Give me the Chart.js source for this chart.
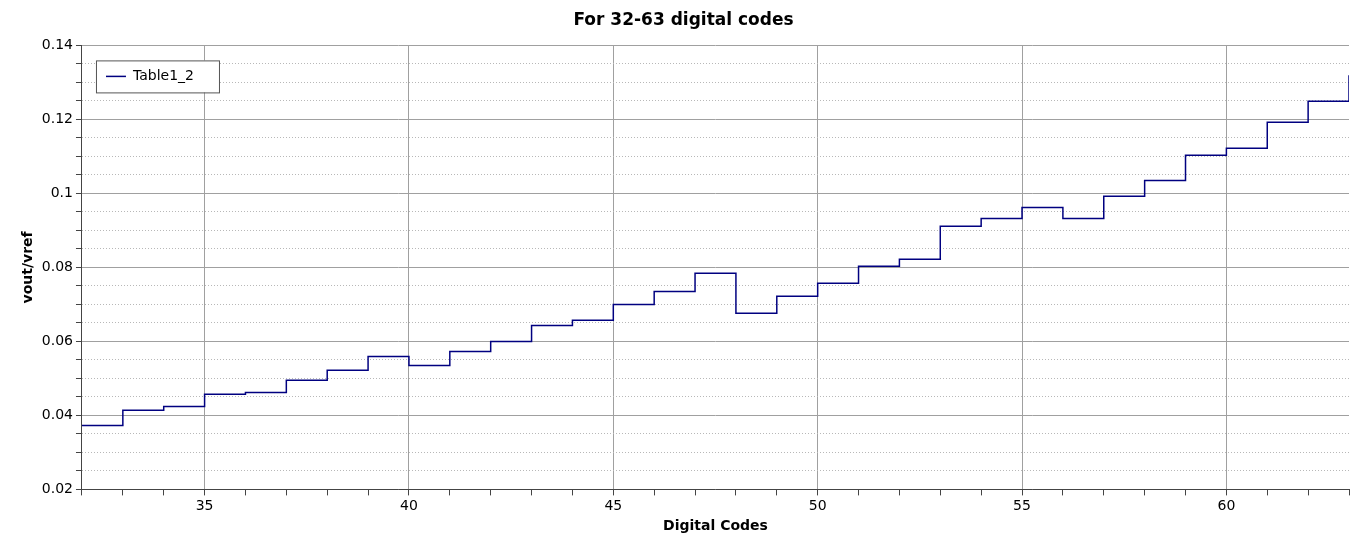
<!DOCTYPE html>
<html><head><meta charset="utf-8">
<script src="https://cdn.jsdelivr.net/npm/chart.js@4"></script>
<style>body{margin:0;background:#fff}#wrap{width:1366px;height:549px}</style>
</head><body><div id="wrap"><canvas id="c"></canvas></div>
<script>
const codes = [32,33,34,35,36,37,38,39,40,41,42,43,44,45,46,47,48,49,50,51,52,53,54,55,56,57,58,59,60,61,62,63];
const ratio = [0.0373,0.0414,0.0424,0.0457,0.0462,0.0495,0.0522,0.0559,0.0535,0.0573,0.0600,0.0643,0.0657,0.0700,0.0735,0.0784,
  0.0676,0.0722,0.0757,0.0803,0.0822,0.0911,0.0932,0.0962,0.0932,0.0992,0.1035,0.1103,0.1122,0.1192,0.1249,0.1319];
const seriesName = 'Table1_2';

const isMajorY = v => Math.abs(v*50 - Math.round(v*50)) < 1e-6;

const legendBox = {
  id: 'legendBox',
  afterDraw(chart) {
    const c = chart.ctx, a = chart.chartArea;
    const x = a.left + 14, y = a.top + 15;
    c.save();
    c.fillStyle = '#fff'; c.fillRect(x, y, 123, 32);
    c.strokeStyle = '#555'; c.lineWidth = 1; c.strokeRect(x + .5, y + .5, 123, 32);
    c.strokeStyle = '#000080'; c.lineWidth = 1.5;
    c.beginPath(); c.moveTo(x + 10, y + 16); c.lineTo(x + 30, y + 16); c.stroke();
    c.fillStyle = '#000'; c.font = '14px "DejaVu Sans"'; c.textBaseline = 'middle';
    c.fillText(seriesName, x + 37, y + 16);
    c.restore();
  }
};

new Chart(document.getElementById('c'), {
  type: 'line',
  data: { datasets: [{ label: seriesName, data: codes.map((x, i) => ({x, y: ratio[i]})),
    stepped: 'before', borderColor: '#000080', borderWidth: 1.5, pointRadius: 0, fill: false }] },
  options: {
    responsive: true, maintainAspectRatio: false, animation: false,
    layout: { padding: { left: 18, right: 17, top: 0, bottom: 14 } },
    plugins: {
      legend: { display: false },
      tooltip: { enabled: false },
      title: { display: true, text: 'For 32-63 digital codes', color: '#000',
        font: { family: 'DejaVu Sans', size: 17, weight: 'bold' }, padding: { top: 10, bottom: 15 } }
    },
    scales: {
      x: { type: 'linear', min: 32, max: 63,
        ticks: { stepSize: 1, autoSkip: false, maxRotation: 0, color: '#000', font: { family: 'DejaVu Sans', size: 14 },
          callback: v => v % 5 === 0 ? v : '' },
        grid: { color: ctx => (ctx.tick && ctx.tick.value % 5 === 0) ? '#a0a0a0' : 'rgba(0,0,0,0)',
          tickColor: '#444', tickLength: 6, drawTicks: true },
        border: { color: '#444' },
        title: { display: true, text: 'Digital Codes', color: '#000', padding: 0,
          font: { family: 'DejaVu Sans', size: 14, weight: 'bold' } } },
      y: { min: 0.02, max: 0.14,
        ticks: { stepSize: 0.005, autoSkip: false, color: '#000', font: { family: 'DejaVu Sans', size: 14 },
          callback: v => isMajorY(v) ? String(+v.toFixed(2)) : '' },
        grid: { color: ctx => (ctx.tick && isMajorY(ctx.tick.value)) ? '#a0a0a0' : '#b8b8b8',
          lineWidth: 1, tickColor: '#444', tickLength: 6 },
        border: { color: '#444', dash: ctx => (ctx.tick && isMajorY(ctx.tick.value)) ? [] : [1, 2] },
        title: { display: true, text: 'vout/vref', color: '#000', padding: 2,
          font: { family: 'DejaVu Sans', size: 14, weight: 'bold' } } }
    }
  },
  plugins: [legendBox]
});
</script></body></html>
